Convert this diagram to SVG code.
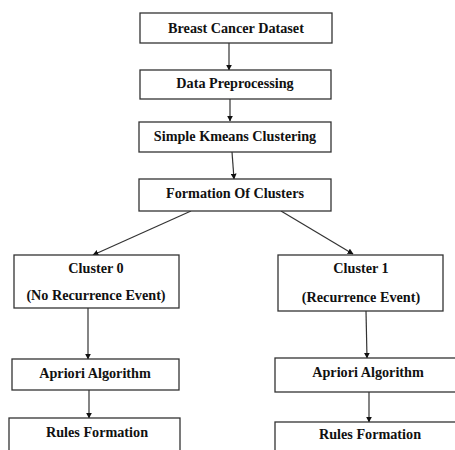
<svg xmlns="http://www.w3.org/2000/svg" width="455" height="450" viewBox="0 0 455 450">
<style>
rect{fill:#fff;stroke:#333;stroke-width:1.3}
text{font-family:"Liberation Serif","Times New Roman",serif;font-weight:bold;font-size:14.2px;fill:#111;text-anchor:middle}
.c line{stroke:#333;stroke-width:1.2;marker-end:url(#ah)}
</style>
<defs>
<marker id="ah" viewBox="0 0 10 10" refX="9" refY="5" markerWidth="6" markerHeight="6" markerUnits="userSpaceOnUse" orient="auto">
<path d="M0,0 L10,5 L0,10 z" fill="#111"/>
</marker>
</defs>
<rect x="0" y="0" width="455" height="450" style="stroke:none"/>
<g class="c">
<line x1="229" y1="43" x2="229" y2="70"/>
<line x1="230" y1="99" x2="230" y2="121"/>
<line x1="232" y1="152" x2="234" y2="179"/>
<line x1="191" y1="211" x2="93" y2="255"/>
<line x1="281" y1="211" x2="353" y2="254"/>
<line x1="88" y1="308" x2="88" y2="359"/>
<line x1="89" y1="390" x2="89" y2="418"/>
<line x1="366" y1="311" x2="367" y2="358"/>
<line x1="369" y1="392" x2="369" y2="422"/>
</g>
<g id="n1"><rect x="140" y="13" width="192" height="30"/><text x="236" y="33">Breast Cancer Dataset</text></g>
<g id="n2"><rect x="140" y="70" width="191" height="29"/><text x="235" y="88">Data Preprocessing</text></g>
<g id="n3"><rect x="139" y="122" width="192" height="30"/><text x="235" y="141">Simple Kmeans Clustering</text></g>
<g id="n4"><rect x="139" y="179" width="192" height="32"/><text x="235" y="198">Formation Of Clusters</text></g>
<g id="n5"><rect x="14" y="255" width="165" height="53"/><text x="96" y="273">Cluster 0</text><text x="96" y="300">(No Recurrence Event)</text></g>
<g id="n6"><rect x="278" y="255" width="165" height="56"/><text x="361" y="273">Cluster 1</text><text x="361" y="302">(Recurrence Event)</text></g>
<g id="n7"><rect x="12" y="359" width="167" height="31"/><text x="95" y="378">Apriori Algorithm</text></g>
<g id="n8"><rect x="275" y="358" width="185" height="34"/><text x="368" y="377">Apriori Algorithm</text></g>
<g id="n9"><rect x="9" y="418" width="171" height="40"/><text x="97" y="437">Rules Formation</text></g>
<g id="n10"><rect x="275" y="422" width="185" height="40"/><text x="370" y="439">Rules Formation</text></g>
</svg>
